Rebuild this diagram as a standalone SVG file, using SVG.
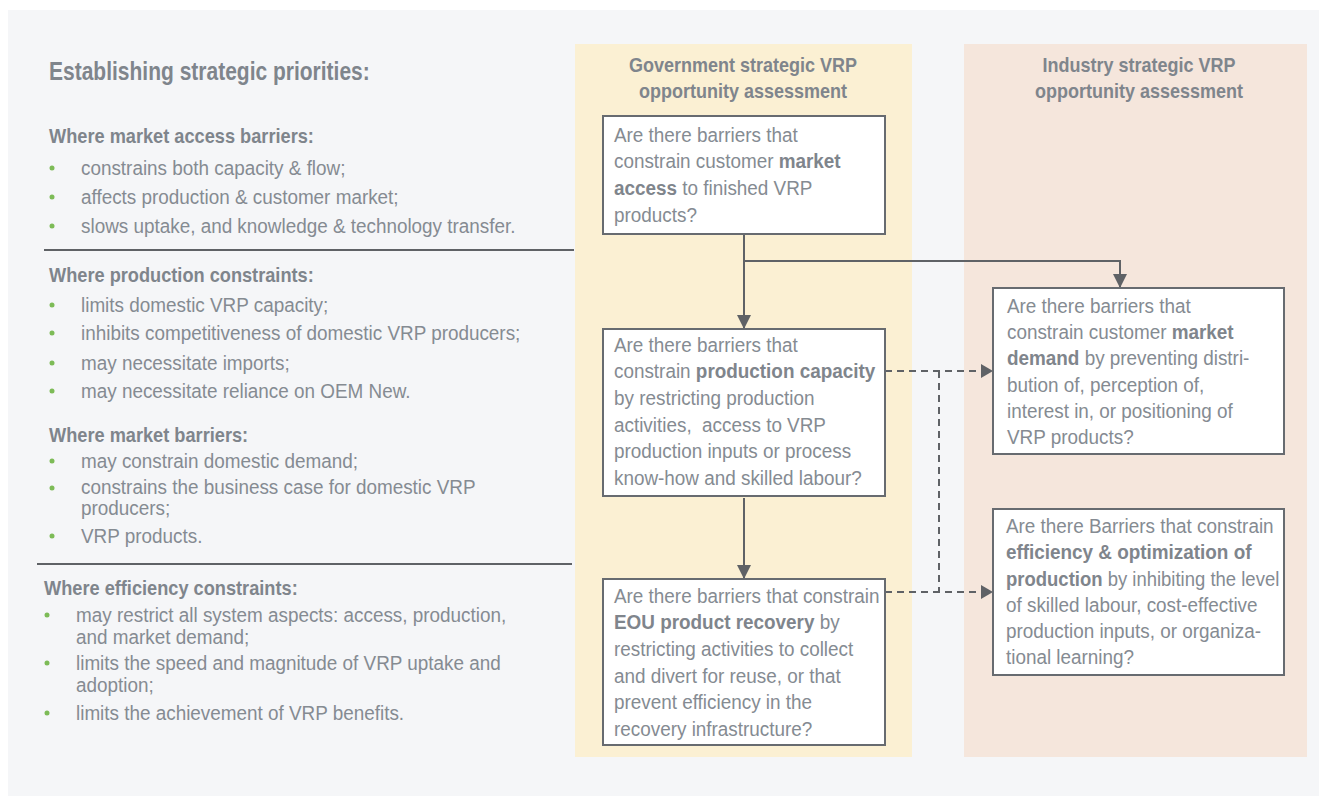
<svg xmlns="http://www.w3.org/2000/svg" width="1319" height="796" viewBox="0 0 1319 796">
  <style>
    text { font-family: "Liberation Sans", Arial, sans-serif; fill: #858b92; font-size: 20px;
           transform-box: fill-box; transform-origin: 0 50%; transform: scaleX(0.945); }
    .tight { transform: scaleX(0.925); }
    .title { font-size: 25px; font-weight: bold; fill: #7f858c; transform: scaleX(0.84); }
    .head { font-weight: bold; fill: #7f858c; transform: scaleX(0.91); }
    .colhead { font-weight: bold; fill: #7f858c; text-anchor: middle; transform-origin: 50% 50%; transform: scaleX(0.9); }
    .b { font-weight: bold; fill: #7f858c; }
    .dot { fill: #7dbb57; }
    .box { fill: #ffffff; stroke: #676b70; stroke-width: 2; }
    .rule { stroke: #5f6266; stroke-width: 2; }
    .solid { fill: none; stroke: #5f6266; stroke-width: 2; }
    .dash { fill: none; stroke: #5f6266; stroke-width: 2; stroke-dasharray: 7 5; }
  </style>
  <defs>
    <marker id="arrow" viewBox="0 0 14 14" refX="14" refY="7" markerWidth="14" markerHeight="14" markerUnits="userSpaceOnUse" orient="auto">
      <path d="M0,0 L14,7 L0,14 Z" fill="#5f6266"/>
    </marker>
    <marker id="arrowSmall" viewBox="0 0 12 14" refX="12" refY="7" markerWidth="12" markerHeight="14" markerUnits="userSpaceOnUse" orient="auto">
      <path d="M0,0 L12,7 L0,14 Z" fill="#5f6266"/>
    </marker>
  </defs>

  <!-- page backgrounds -->
  <rect x="0" y="0" width="1319" height="796" fill="#ffffff"/>
  <rect x="8" y="10" width="1311" height="786" fill="#f5f6f8"/>
  <rect id="gov-panel" x="575" y="44" width="337" height="713" fill="#fbf0d3"/>
  <rect id="industry-panel" x="964" y="44" width="343" height="713" fill="#f5e6dc"/>

  <!-- left column: strategic priorities -->
  <g id="priorities">
    <text class="title" x="49" y="80">Establishing strategic priorities:</text>

    <text class="head" x="49" y="143">Where market access barriers:</text>
    <circle class="dot" cx="52" cy="168" r="2.5"/>
    <text x="81" y="175">constrains both capacity &amp; flow;</text>
    <circle class="dot" cx="52" cy="197" r="2.5"/>
    <text x="81" y="204">affects production &amp; customer market;</text>
    <circle class="dot" cx="52" cy="226" r="2.5"/>
    <text x="81" y="233">slows uptake, and knowledge &amp; technology transfer.</text>
    <line class="rule" x1="44" y1="250" x2="574" y2="250"/>

    <text class="head" x="49" y="282">Where production constraints:</text>
    <circle class="dot" cx="52" cy="305" r="2.5"/>
    <text x="81" y="312">limits domestic VRP capacity;</text>
    <circle class="dot" cx="52" cy="333" r="2.5"/>
    <text x="81" y="340">inhibits competitiveness of domestic VRP producers;</text>
    <circle class="dot" cx="52" cy="363" r="2.5"/>
    <text x="81" y="370">may necessitate imports;</text>
    <circle class="dot" cx="52" cy="391" r="2.5"/>
    <text x="81" y="398">may necessitate reliance on OEM New.</text>

    <text class="head" x="49" y="442">Where market barriers:</text>
    <circle class="dot" cx="52" cy="461" r="2.5"/>
    <text x="81" y="468">may constrain domestic demand;</text>
    <circle class="dot" cx="52" cy="488" r="2.5"/>
    <text x="81" y="494">constrains the business case for domestic VRP</text>
    <text x="81" y="515">producers;</text>
    <circle class="dot" cx="52" cy="536" r="2.5"/>
    <text x="81" y="543">VRP products.</text>
    <line class="rule" x1="37" y1="564" x2="572" y2="564"/>

    <text class="head" x="44" y="595">Where efficiency constraints:</text>
    <circle class="dot" cx="47" cy="615" r="2.5"/>
    <text x="76" y="622">may restrict all system aspects: access, production,</text>
    <text x="76" y="644">and market demand;</text>
    <circle class="dot" cx="47" cy="663" r="2.5"/>
    <text x="76" y="670">limits the speed and magnitude of VRP uptake and</text>
    <text x="76" y="692">adoption;</text>
    <circle class="dot" cx="47" cy="713" r="2.5"/>
    <text x="76" y="720">limits the achievement of VRP benefits.</text>
  </g>

  <!-- column headers -->
  <g id="gov-header">
    <text class="colhead" x="743" y="72">Government strategic VRP</text>
    <text class="colhead" x="743" y="98">opportunity assessment</text>
  </g>
  <g id="industry-header">
    <text class="colhead" x="1139" y="72">Industry strategic VRP</text>
    <text class="colhead" x="1139" y="98">opportunity assessment</text>
  </g>

  <!-- connectors -->
  <g id="connectors">
    <path class="solid" d="M744,234 V329" marker-end="url(#arrow)"/>
    <path class="solid" d="M744,261 H1120 V288" marker-end="url(#arrow)"/>
    <path class="solid" d="M744,498 V579" marker-end="url(#arrow)"/>
    <path class="dash" d="M885,371 H993" marker-end="url(#arrowSmall)"/>
    <path class="dash" d="M885,592 H993" marker-end="url(#arrowSmall)"/>
    <path class="dash" d="M939,371 V592"/>
  </g>

  <!-- government assessment questions -->
  <g id="q-market-access">
    <rect class="box" x="603" y="116" width="282" height="118"/>
    <text x="614" y="142">Are there barriers that</text>
    <text x="614" y="168">constrain customer <tspan class="b">market</tspan></text>
    <text x="614" y="195"><tspan class="b">access</tspan> to finished VRP</text>
    <text x="614" y="222">products?</text>
  </g>

  <g id="q-production-capacity">
    <rect class="box" x="603" y="329" width="282" height="167"/>
    <text x="614" y="352">Are there barriers that</text>
    <text x="614" y="378">constrain <tspan class="b">production capacity</tspan></text>
    <text x="614" y="405">by restricting production</text>
    <text x="614" y="432" xml:space="preserve">activities,  access to VRP</text>
    <text x="614" y="458">production inputs or process</text>
    <text x="614" y="485">know-how and skilled labour?</text>
  </g>

  <g id="q-product-recovery">
    <rect class="box" x="603" y="579" width="282" height="166"/>
    <text x="614" y="603">Are there barriers that constrain</text>
    <text x="614" y="629"><tspan class="b">EOU product recovery</tspan> by</text>
    <text x="614" y="656">restricting activities to collect</text>
    <text x="614" y="683">and divert for reuse, or that</text>
    <text x="614" y="709">prevent efficiency in the</text>
    <text x="614" y="736">recovery infrastructure?</text>
  </g>

  <!-- industry assessment questions -->
  <g id="q-market-demand">
    <rect class="box" x="993" y="288" width="291" height="166"/>
    <text x="1007" y="313">Are there barriers that</text>
    <text x="1007" y="339">constrain customer <tspan class="b">market</tspan></text>
    <text x="1007" y="365"><tspan class="b">demand</tspan> by preventing distri-</text>
    <text x="1007" y="392">bution of, perception of,</text>
    <text x="1007" y="418">interest in, or positioning of</text>
    <text x="1007" y="444">VRP products?</text>
  </g>

  <g id="q-efficiency">
    <rect class="box" x="993" y="509" width="291" height="166"/>
    <text x="1006" y="533">Are there Barriers that constrain</text>
    <text x="1006" y="559"><tspan class="b">efficiency &amp; optimization of</tspan></text>
    <text class="tight" x="1006" y="586"><tspan class="b">production</tspan> by inhibiting the level</text>
    <text x="1006" y="612">of skilled labour, cost-effective</text>
    <text x="1006" y="638">production inputs, or organiza-</text>
    <text x="1006" y="664">tional learning?</text>
  </g>
</svg>
